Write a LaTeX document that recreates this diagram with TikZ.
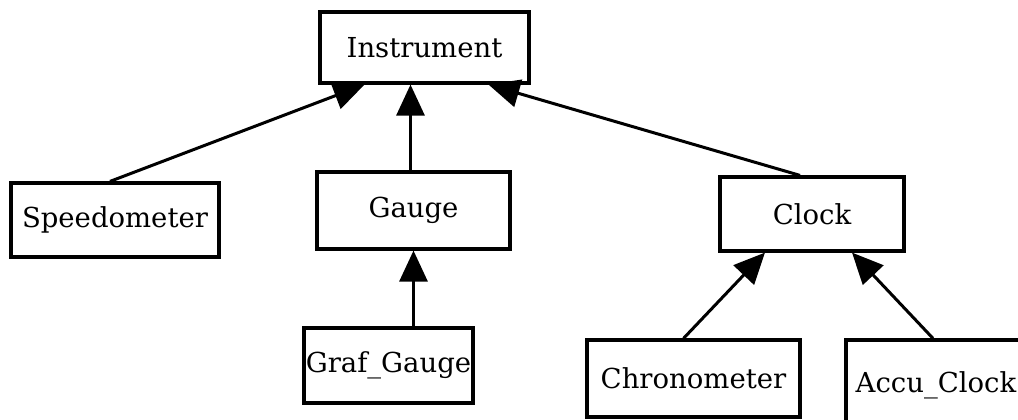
\documentclass[tikz,border=0pt]{standalone}
\usepackage{fontspec}
\setmainfont{DejaVu Serif}
\usepackage{xcolor}
\usetikzlibrary{arrows.meta}
\colorlet{box edge}{black}
\colorlet{box area}{white}
\tikzset{class/.style={draw=box edge, fill=box area, line width=3.2pt, inner sep=0pt,
        font=\fontsize{27.5}{32}\selectfont},
    inherits/.style={draw=box edge, line width=3pt,
        -{Triangle[length=31pt, width=28pt]}}}

\begin{document}
\begin{tikzpicture}[x=1pt, y=-1pt]
    \useasboundingbox (0,0) rectangle (1018,420);
    \clip (0,0) rectangle (1018,420);
    \node[class, minimum width=209pt, minimum height=71pt] (instr) at (424.5, 47.5) {Instrument};
    \node[class, minimum width=208pt, minimum height=74pt] (speed) at (115, 220)   {Speedometer};
    \node[class, minimum width=193pt, minimum height=77pt] (gauge) at (413.5, 210.5) {Gauge};
    \node[class, minimum width=169pt, minimum height=75pt] (graf)  at (388.5, 365.5) {Graf\_Gauge};
    \node[class, minimum width=184pt, minimum height=74pt] (clock) at (812, 214)   {Clock};
    \node[class, minimum width=213pt, minimum height=77pt] (chron) at (693.5, 378.5) {Chronometer};
    \node[class, minimum width=180pt, minimum height=90pt] (accu)  at (936, 385)   {Accu\_Clock};
    \draw[inherits] ([xshift=-5pt]speed.north) -- ([xshift=-60pt]instr.south);
    \draw[inherits] ([xshift=-3pt]gauge.north) -- ([xshift=-3pt]gauge.north |- instr.south);
    \draw[inherits] ([xshift=-12pt]clock.north) -- ([xshift=64pt]instr.south);
    \draw[inherits] (gauge.south |- graf.north) -- (gauge.south);
    \draw[inherits] ([xshift=-10pt]chron.north) -- ([xshift=-47pt]clock.south);
    \draw[inherits] ([xshift=-3pt]accu.north) -- ([xshift=40pt]clock.south);
\end{tikzpicture}
\end{document}
